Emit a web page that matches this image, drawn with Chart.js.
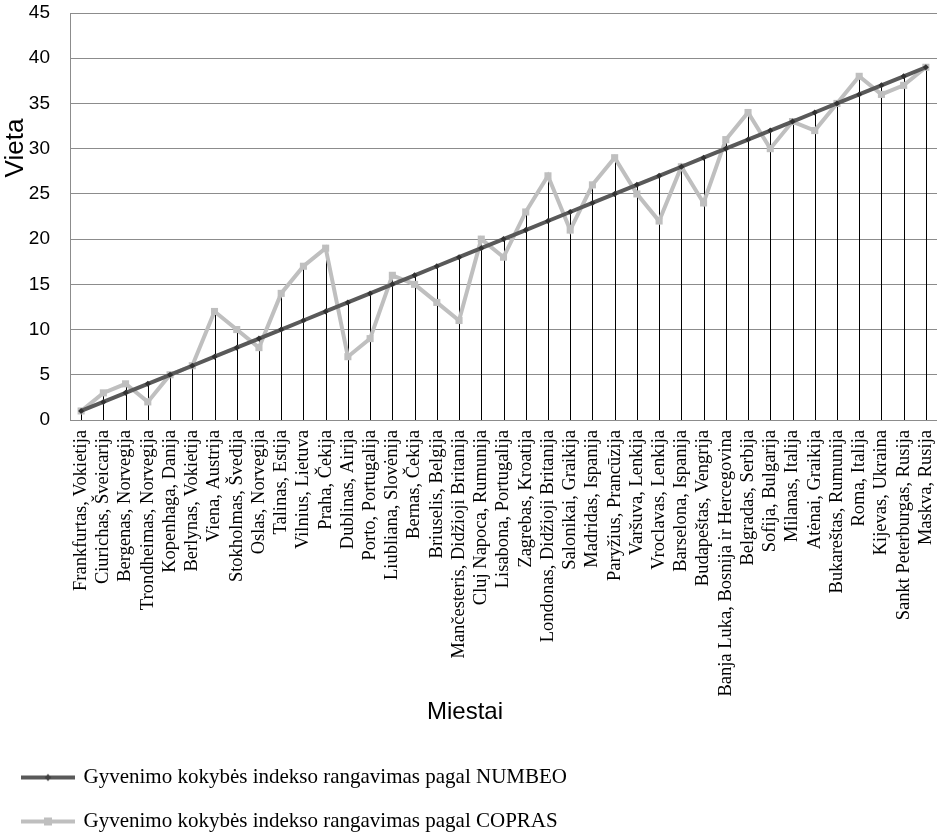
<!DOCTYPE html>
<html>
<head>
<meta charset="utf-8">
<script src="https://cdn.jsdelivr.net/npm/chart.js@4/dist/chart.umd.min.js"></script>
<style>
html,body{margin:0;padding:0;background:#fff;}
#wrap{width:937px;height:834px;position:relative;overflow:hidden;}
</style>
</head>
<body>
<div id="wrap"><canvas id="c" width="937" height="834"></canvas></div>
<script>
const cities = [
  "Frankfurtas, Vokietija", "Ciurichas, Šveicarija", "Bergenas, Norvegija", "Trondheimas, Norvegija",
  "Kopenhaga, Danija", "Berlynas, Vokietija", "Viena, Austrija", "Stokholmas, Švedija", "Oslas, Norvegija",
  "Talinas, Estija", "Vilnius, Lietuva", "Praha, Čekija", "Dublinas, Airija", "Porto, Portugalija",
  "Liubliana, Slovėnija", "Bernas, Čekija", "Briuselis, Belgija", "Mančesteris, Didžioji Britanija",
  "Cluj Napoca, Rumunija", "Lisabona, Portugalija", "Zagrebas, Kroatija", "Londonas, Didžioji Britanija",
  "Salonikai, Graikija", "Madridas, Ispanija", "Paryžius, Prancūzija", "Varšuva, Lenkija",
  "Vroclavas, Lenkija", "Barselona, Ispanija", "Budapeštas, Vengrija", "Banja Luka, Bosnija ir Hercegovina",
  "Belgradas, Serbija", "Sofija, Bulgarija", "Milanas, Italija", "Atėnai, Graikija", "Bukareštas, Rumunija",
  "Roma, Italija", "Kijevas, Ukraina", "Sankt Peterburgas, Rusija", "Maskva, Rusija"
];
const numbeoRank = [1,2,3,4,5,6,7,8,9,10,11,12,13,14,15,16,17,18,19,20,21,22,23,24,25,26,27,28,29,30,31,32,33,34,35,36,37,38,39];
const coprasRank = [1,3,4,2,5,6,12,10,8,14,17,19,7,9,16,15,13,11,20,18,23,27,21,26,29,25,22,28,24,31,34,30,33,32,35,38,36,37,39];
const seriesNames = [
  "Gyvenimo kokybės indekso rangavimas pagal NUMBEO",
  "Gyvenimo kokybės indekso rangavimas pagal COPRAS"
];
const yAxisMin = 0;
const yAxisMax = 45;
const yAxisStep = 5;
const xTitle = "Miestai";
const yTitle = "Vieta";

const darkColor = '#595959';
const lightColor = '#bfbfbf';
const gridColor = '#8c8c8c';

function makeSample(color, markerColor, kind) {
  const cv = document.createElement('canvas');
  cv.width = 54; cv.height = 12;
  const c = cv.getContext('2d');
  c.strokeStyle = color; c.lineWidth = 4;
  c.beginPath(); c.moveTo(0, 6); c.lineTo(54, 6); c.stroke();
  c.fillStyle = markerColor;
  if (kind === 'diamond') {
    c.beginPath(); c.moveTo(27, 2.5); c.lineTo(30.5, 6); c.lineTo(27, 9.5); c.lineTo(23.5, 6); c.closePath(); c.fill();
  } else {
    c.fillRect(23, 2, 8, 8);
  }
  return cv;
}
const samples = [makeSample(darkColor, '#404040', 'diamond'), makeSample(lightColor, lightColor, 'square')];

const dropLines = {
  id: 'dropLines',
  beforeDatasetsDraw(chart) {
    const ctx = chart.ctx, xs = chart.scales.x, ys = chart.scales.y;
    ctx.save();
    ctx.strokeStyle = '#000';
    ctx.lineWidth = 1;
    cities.forEach((c, i) => {
      const top = Math.max(numbeoRank[i], coprasRank[i]);
      const px = Math.round(xs.getPixelForValue(i)) + 0.5;
      ctx.beginPath();
      ctx.moveTo(px, ys.getPixelForValue(0));
      ctx.lineTo(px, ys.getPixelForValue(top));
      ctx.stroke();
    });
    ctx.restore();
  }
};

const axisTitles = {
  id: 'axisTitles',
  afterDraw(chart) {
    const ctx = chart.ctx;
    ctx.save();
    ctx.fillStyle = '#000';
    ctx.textAlign = 'center';
    ctx.textBaseline = 'middle';
    ctx.font = '24px "Liberation Sans", Arial, sans-serif';
    ctx.fillText(xTitle, 465, 712);
    ctx.translate(16, 148);
    ctx.rotate(-Math.PI / 2);
    ctx.font = '26px "Liberation Sans", Arial, sans-serif';
    ctx.fillText(yTitle, 0, 0);
    ctx.restore();
  }
};

new Chart(document.getElementById('c'), {
  type: 'line',
  data: {
    labels: cities,
    datasets: [
      {
        label: seriesNames[0],
        data: numbeoRank,
        borderColor: darkColor,
        backgroundColor: '#404040',
        borderWidth: 4,
        pointStyle: 'rectRot',
        pointRadius: 3,
        pointBorderWidth: 0,
        pointBackgroundColor: '#333333',
        tension: 0,
        fill: false
      },
      {
        label: seriesNames[1],
        data: coprasRank,
        borderColor: lightColor,
        backgroundColor: lightColor,
        borderWidth: 4,
        pointStyle: 'rect',
        pointRadius: 5,
        pointBorderWidth: 0,
        pointBackgroundColor: lightColor,
        tension: 0,
        fill: false
      }
    ]
  },
  options: {
    responsive: false,
    animation: false,
    devicePixelRatio: 1,
    layout: { autoPadding: false, padding: { top: 13, right: -2, left: 0, bottom: -8 } },
    plugins: {
      tooltip: { enabled: false },
      legend: {
        position: 'bottom',
        align: 'start',
        labels: {
          usePointStyle: true,
          pointStyleWidth: 50,
          padding: 23,
          color: '#000',
          font: { family: '"Liberation Serif", "Times New Roman", serif', size: 21 },
          generateLabels(chart) {
            return chart.data.datasets.map((ds, i) => ({
              text: ds.label,
              pointStyle: samples[i],
              fillStyle: ds.borderColor,
              strokeStyle: ds.borderColor,
              lineWidth: 0,
              hidden: false,
              datasetIndex: i,
              fontColor: '#000'
            }));
          }
        }
      }
    },
    scales: {
      x: {
        type: 'category',
        offset: true,
        afterFit(scale) { scale.height = 324; scale.paddingLeft = 0; scale.paddingRight = 0; },
        grid: { display: false, drawTicks: false },
        border: { display: true, color: gridColor, width: 1 },
        ticks: {
          autoSkip: false,
          maxRotation: 90,
          minRotation: 90,
          padding: 10,
          color: '#000',
          font: { family: '"Liberation Serif", "Times New Roman", serif', size: 18.5 }
        }
      },
      y: {
        min: yAxisMin,
        max: yAxisMax,
        afterFit(scale) { scale.width = 70; scale.paddingTop = 0; scale.paddingBottom = 0; },
        grid: { color: gridColor, drawTicks: false, lineWidth: 1 },
        border: { display: true, color: gridColor, width: 1 },
        ticks: {
          stepSize: yAxisStep,
          padding: 20,
          color: '#000',
          font: { family: '"Liberation Sans", Arial, sans-serif', size: 19 }
        }
      }
    }
  },
  plugins: [dropLines, axisTitles]
});
</script>
</body>
</html>
